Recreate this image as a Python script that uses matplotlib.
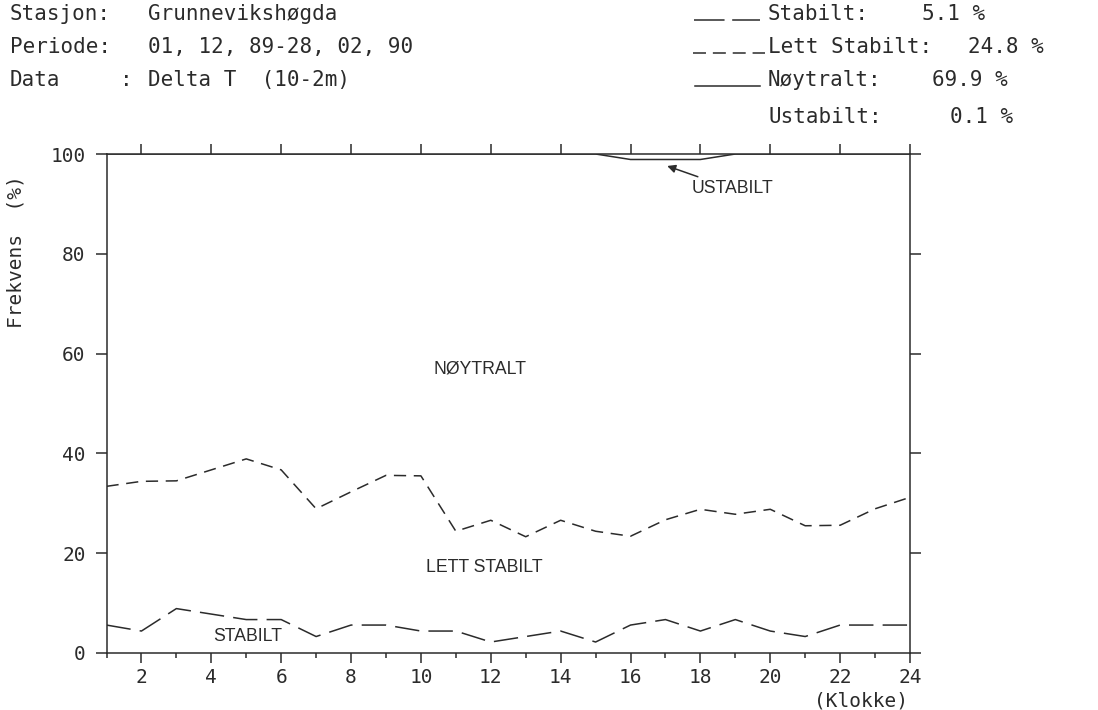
import numpy as np
import matplotlib
matplotlib.use("Agg")
import matplotlib.pyplot as plt
from matplotlib.lines import Line2D

# Hourly stability-class frequencies (%), Grunnevikshøgda, 01.12.89-28.02.90
hours = list(range(1, 25))
stabilt = [5.6, 4.4, 8.9, 7.8, 6.7, 6.7, 3.3, 5.6, 5.6, 4.4, 4.4, 2.2,
           3.3, 4.4, 2.2, 5.6, 6.7, 4.4, 6.7, 4.4, 3.3, 5.6, 5.6, 5.6]
lett_stabilt = [27.8, 30.0, 25.6, 28.9, 32.2, 30.0, 25.6, 26.7, 30.0, 31.1, 20.0, 24.4,
                20.0, 22.2, 22.2, 17.8, 20.0, 24.4, 21.1, 24.4, 22.2, 20.0, 23.3, 25.6]
ustabilt = [0.0, 0.0, 0.0, 0.0, 0.0, 0.0, 0.0, 0.0, 0.0, 0.0, 0.0, 0.0,
            0.0, 0.0, 0.0, 1.1, 1.1, 1.1, 0.0, 0.0, 0.0, 0.0, 0.0, 0.0]
x_ticks = list(range(2, 25, 2))
y_ticks = [0, 20, 40, 60, 80, 100]

s = np.array(stabilt)
ls = np.array(lett_stabilt)
u = np.array(ustabilt)
n = 100.0 - s - ls - u

# cumulative curves
cum_s = s
cum_ls = s + ls
cum_n = s + ls + n

W, H = 1098, 710
fig = plt.figure(figsize=(W / 100, H / 100), dpi=100)
fig.patch.set_facecolor("white")


def fx(px):
    return px / W


def fy(py):
    return 1 - py / H


INK = "#2b2b2b"
MONO = "DejaVu Sans Mono"
SANS = "Liberation Sans"

ax = fig.add_axes([fx(106.5), fy(653), fx(910) - fx(106.5), fy(154) - fy(653)])
ax.set_xlim(1, 24)
ax.set_ylim(0, 100)

ax.plot(hours, cum_s, color=INK, lw=1.1, dashes=(16, 6))
ax.plot(hours, cum_ls, color=INK, lw=1.1, dashes=(8, 5))
ax.plot(hours, cum_n, color=INK, lw=1.1)

for sp in ax.spines.values():
    sp.set_color(INK)
    sp.set_linewidth(1.1)

ax.set_xticks(x_ticks)
ax.set_xticks(hours, minor=True)
ax.set_yticks(y_ticks)
ax.tick_params(axis="x", which="major", direction="out", length=7.5, width=1.1,
               color=INK, top=True, bottom=True, labelsize=14, pad=3,
               labelcolor=INK)
ax.tick_params(axis="x", which="minor", direction="out", length=3.6, width=1.1,
               color=INK, top=False, bottom=True)
ax.tick_params(axis="y", which="major", direction="out", length=8, width=1.1,
               color=INK, left=True, right=True, labelsize=14, pad=7,
               labelcolor=INK)
for lab in ax.get_xticklabels() + ax.get_yticklabels():
    lab.set_fontfamily(MONO)

# class labels inside the plot
ax.text(11.69, 56.9, "NØYTRALT", family=SANS, fontsize=12.7, color=INK,
        ha="center", va="center")
ax.text(11.81, 17.2, "LETT STABILT", family=SANS, fontsize=12.7, color=INK,
        ha="center", va="center")
ax.text(5.05, 3.4, "STABILT", family=SANS, fontsize=12.7, color=INK,
        ha="center", va="center")
ax.annotate("USTABILT", xy=(17.05, 97.6), xytext=(17.75, 93.0),
            family=SANS, fontsize=12.7, color=INK, ha="left", va="center",
            arrowprops=dict(arrowstyle="-|>", color=INK, lw=1.1,
                            shrinkA=2, shrinkB=0, mutation_scale=12))

# axis titles
fig.text(fx(16), fy(252), "Frekvens  (%)", family=MONO, fontsize=14,
         color=INK, rotation=90, ha="center", va="center")
fig.text(fx(908), fy(701), "(Klokke)", family=MONO, fontsize=14,
         color=INK, ha="right", va="center")

# station header
hdr = dict(family=MONO, fontsize=15, color=INK, va="center", ha="left")
rows = [14, 47, 80]
fig.text(fx(10), fy(rows[0]), "Stasjon:", **hdr)
fig.text(fx(148), fy(rows[0]), "Grunnevikshøgda", **hdr)
fig.text(fx(10), fy(rows[1]), "Periode:", **hdr)
fig.text(fx(148), fy(rows[1]), "01, 12, 89-28, 02, 90", **hdr)
fig.text(fx(10), fy(rows[2]), "Data", **hdr)
fig.text(fx(120), fy(rows[2]), ":", **hdr)
fig.text(fx(148), fy(rows[2]), "Delta T  (10-2m)", **hdr)

# key with mean frequencies
means = [s.mean(), ls.mean(), n.mean(), u.mean()]
names = ["Stabilt:", "Lett Stabilt:", "Nøytralt:", "Ustabilt:"]
key_rows = [14, 47, 80, 117]
val_x = [922, 968, 932, 950]
for name, m, yy, vx in zip(names, means, key_rows, val_x):
    fig.text(fx(768), fy(yy), name, **hdr)
    fig.text(fx(vx), fy(yy), f"{m:.1f} %", **hdr)

samples = [((694, 760), (20, 5)), ((693, 765), (8.5, 4.5)), ((695, 760), None)]
for ((x0, x1), dash), yy in zip(samples, key_rows):
    ln = Line2D([fx(x0), fx(x1)], [fy(yy + 6), fy(yy + 6)], transform=fig.transFigure,
                color=INK, lw=1.1)
    if dash:
        ln.set_dashes(dash)
    fig.add_artist(ln)

fig.savefig("out.png", dpi=100, facecolor="white")
